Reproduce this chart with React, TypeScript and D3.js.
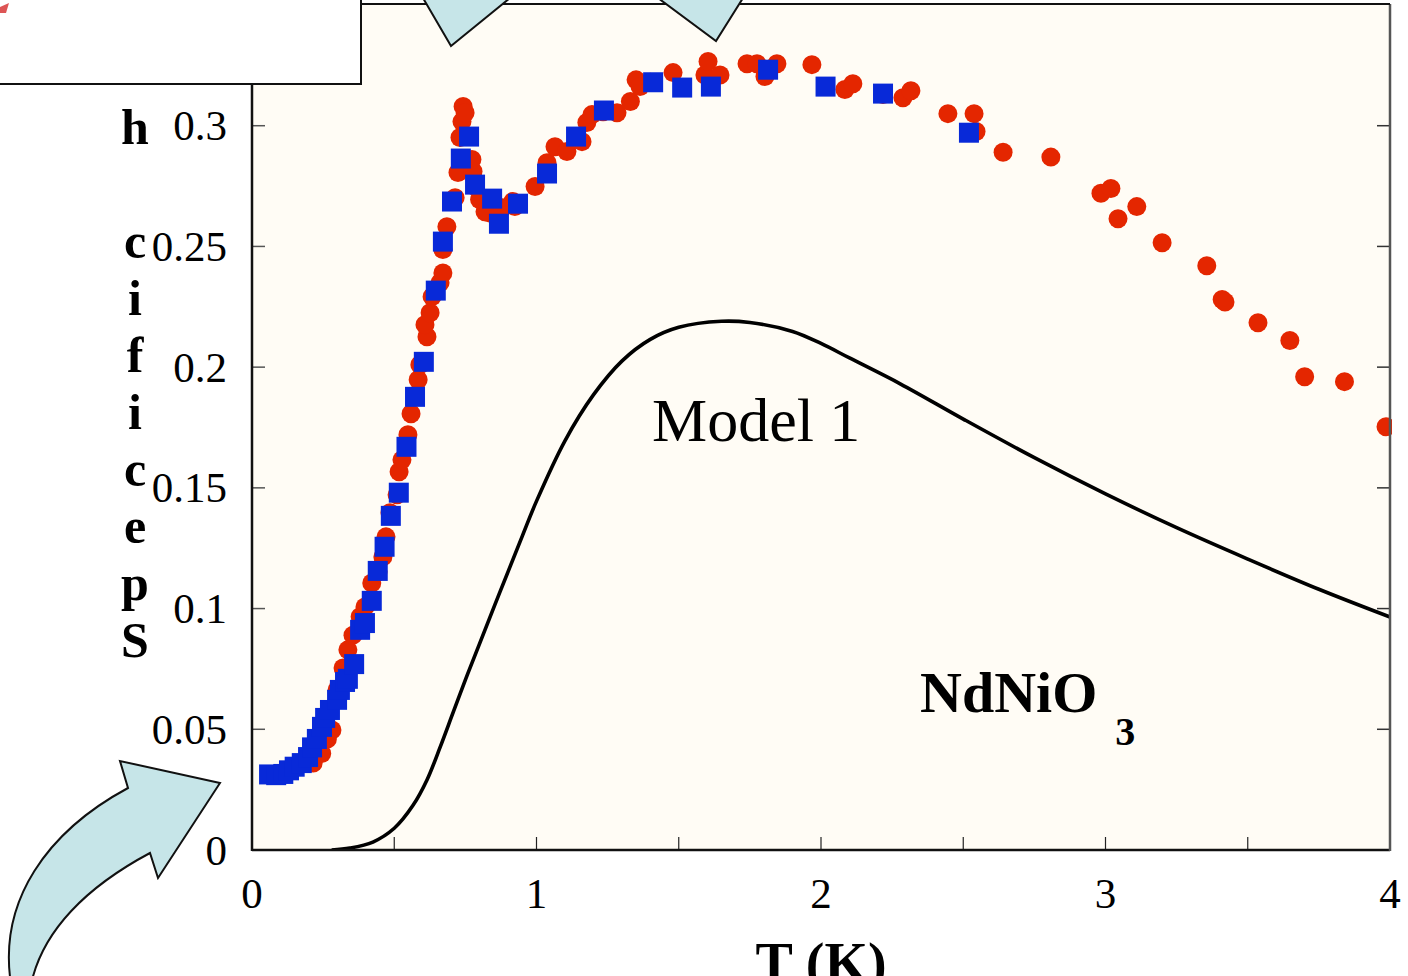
import React from 'react';
import * as d3 from 'd3';

// Series 1 (red circles): T (K) and specific heat
const redT = [0.215, 0.245, 0.265, 0.281, 0.299, 0.32, 0.337, 0.355, 0.38, 0.397, 0.421, 0.443, 0.46, 0.471, 0.485, 0.51, 0.517, 0.527, 0.548, 0.559, 0.584, 0.59, 0.615, 0.608, 0.626, 0.633, 0.661, 0.671, 0.671, 0.685, 0.714, 0.724, 0.731, 0.738, 0.742, 0.749, 0.773, 0.777, 0.784, 0.8, 0.819, 0.83, 0.86, 0.88, 0.917, 0.924, 0.995, 1.037, 1.065, 1.107, 1.16, 1.177, 1.195, 1.234, 1.283, 1.33, 1.35, 1.364, 1.4, 1.48, 1.592, 1.603, 1.645, 1.74, 1.775, 1.803, 1.845, 1.968, 2.084, 2.112, 2.218, 2.288, 2.316, 2.446, 2.538, 2.545, 2.64, 2.808, 2.984, 3.019, 3.044, 3.11, 3.199, 3.356, 3.41, 3.42, 3.536, 3.648, 3.7, 3.84, 3.986];
const redC = [0.036, 0.04, 0.046, 0.0497, 0.0663, 0.0754, 0.0829, 0.089, 0.0966, 0.1007, 0.1106, 0.1152, 0.1214, 0.1297, 0.1397, 0.1471, 0.1567, 0.1616, 0.172, 0.1807, 0.1948, 0.201, 0.2126, 0.2176, 0.2225, 0.2292, 0.235, 0.239, 0.2487, 0.2582, 0.2702, 0.2806, 0.2951, 0.3017, 0.308, 0.3054, 0.286, 0.281, 0.2748, 0.2694, 0.2644, 0.264, 0.262, 0.266, 0.2686, 0.2665, 0.2748, 0.2847, 0.2913, 0.2893, 0.2934, 0.3013, 0.3046, 0.3058, 0.3054, 0.31, 0.319, 0.3162, 0.318, 0.322, 0.321, 0.3266, 0.321, 0.3257, 0.3257, 0.3204, 0.3257, 0.3253, 0.315, 0.3174, 0.3129, 0.3116, 0.3145, 0.305, 0.305, 0.2976, 0.289, 0.287, 0.272, 0.274, 0.2615, 0.2665, 0.2515, 0.242, 0.228, 0.227, 0.2184, 0.211, 0.196, 0.194, 0.1753];

// Series 2 (blue squares)
const blueT = [0.06, 0.085, 0.11, 0.13, 0.15, 0.175, 0.197, 0.211, 0.228, 0.246, 0.257, 0.274, 0.299, 0.309, 0.327, 0.337, 0.359, 0.38, 0.397, 0.421, 0.442, 0.466, 0.488, 0.516, 0.543, 0.573, 0.604, 0.646, 0.671, 0.703, 0.734, 0.763, 0.784, 0.844, 0.868, 0.935, 1.037, 1.139, 1.237, 1.41, 1.512, 1.613, 1.814, 2.016, 2.218, 2.52];
const blueC = [0.0313, 0.031, 0.0315, 0.033, 0.0345, 0.036, 0.0385, 0.0425, 0.046, 0.051, 0.0547, 0.058, 0.0622, 0.0663, 0.0696, 0.0709, 0.077, 0.0912, 0.094, 0.1032, 0.1156, 0.1256, 0.1384, 0.148, 0.167, 0.1877, 0.2022, 0.2317, 0.252, 0.2686, 0.2864, 0.2955, 0.2756, 0.2698, 0.2594, 0.2677, 0.2802, 0.2955, 0.3063, 0.318, 0.3158, 0.3162, 0.3232, 0.3162, 0.3133, 0.2971];

// Model 1 curve
const modelT = [0.28, 0.344, 0.425, 0.5, 0.566, 0.615, 0.661, 0.707, 0.75, 0.8, 0.872, 0.95, 1.0, 1.1, 1.2, 1.3, 1.4, 1.5, 1.65, 1.75, 1.9, 2.0, 2.1, 2.28, 2.5, 2.75, 3.0, 3.25, 3.5, 3.75, 4.0];
const modelC = [0.0, 0.0008, 0.0033, 0.009, 0.0185, 0.029, 0.0425, 0.057, 0.0705, 0.0855, 0.107, 0.13, 0.1445, 0.1695, 0.1885, 0.2025, 0.2115, 0.2165, 0.219, 0.2185, 0.2148, 0.2098, 0.2038, 0.193, 0.1785, 0.1625, 0.1475, 0.1335, 0.1205, 0.108, 0.0965];

const xTickValues = [0, 1, 2, 3, 4];
const xTickMarks = [0.5, 1, 1.5, 2, 2.5, 3, 3.5];
const yTickValues = [0, 0.05, 0.1, 0.15, 0.2, 0.25, 0.3];
const yTickLabels = ['0', '0.05', '0.1', '0.15', '0.2', '0.25', '0.3'];
const xLabel = 'T (K)';
const yLabelVisible = 'Specific h';
const modelLabel = 'Model 1';
const compound = 'NdNiO';
const compoundSub = '3';

const RED = '#e42600';
const BLUE = '#0829d8';
const ARROW = '#c6e5e8';
const SERIF = '"Liberation Serif", "Times New Roman", serif';

export default function App() {
  const W = 1408, H = 976;
  const x = d3.scaleLinear().domain([0, 4]).range([252, 1390]);
  const y = d3.scaleLinear().domain([0, 0.35]).range([850, 5]);
  const [x0, x1] = x.range();
  const [yb, yt] = y.range();

  const modelPts: [number, number][] = modelT.map((t, i) => [t, modelC[i]]);
  const line = d3.line<[number, number]>()
    .x(d => x(d[0]))
    .y(d => y(d[1]))
    .curve(d3.curveCatmullRom.alpha(0.5));

  const letters = yLabelVisible.split('');
  const sq = 20;

  return (
    <div style={{ position: 'fixed', left: 0, top: 0, width: W, height: H, background: '#fff' }}>
      <svg width={W} height={H} style={{ display: 'block' }}>
        <defs>
          <clipPath id="plotClip">
            <rect x={x0} y={yt - 2} width={x1 - x0 + 2} height={yb - yt + 2} />
          </clipPath>
        </defs>
        <rect x={0} y={0} width={W} height={H} fill="#fff" />
        <rect x={x0} y={yt - 1} width={x1 - x0} height={yb - yt + 1} fill="#fffcf5" />

        {yTickValues.map(v => (
          <g key={'yt' + v}>
            <line x1={x0} x2={x0 + 13} y1={y(v)} y2={y(v)} stroke="#555" strokeWidth={1.5} />
            <line x1={x1 - 13} x2={x1} y1={y(v)} y2={y(v)} stroke="#333" strokeWidth={1.5} />
          </g>
        ))}
        {xTickMarks.map(v => (
          <line key={'xt' + v} x1={x(v)} x2={x(v)} y1={yb - 13} y2={yb} stroke="#222" strokeWidth={1.2} />
        ))}

        <path d={line(modelPts) || ''} fill="none" stroke="#000" strokeWidth={3.6} clipPath="url(#plotClip)" />

        <g clipPath="url(#plotClip)">
          {redT.map((t, i) => (
            <circle key={'r' + i} cx={x(t)} cy={y(redC[i])} r={9.5} fill={RED} />
          ))}
          {blueT.map((t, i) => (
            <rect key={'b' + i} x={x(t) - sq / 2} y={y(blueC[i]) - sq / 2} width={sq} height={sq} fill={BLUE} />
          ))}
        </g>

        <line x1={x0} x2={x0} y1={yt - 1} y2={yb + 1} stroke="#111" strokeWidth={2.5} />
        <line x1={x0} x2={x1} y1={yb} y2={yb} stroke="#111" strokeWidth={2.5} />
        <line x1={x1} x2={x1} y1={yt - 1} y2={yb + 1} stroke="#555" strokeWidth={2.5} />
        <line x1={x0} x2={x1} y1={yt - 1} y2={yt - 1} stroke="#111" strokeWidth={1.8} />

        {yTickValues.map((v, i) => (
          <text key={'yl' + v} x={227} y={y(v)} dy="0.34em" textAnchor="end"
            fontFamily={SERIF} fontSize={43} fill="#000">{yTickLabels[i]}</text>
        ))}
        {xTickValues.map(v => (
          <text key={'xl' + v} x={x(v)} y={908} textAnchor="middle"
            fontFamily={SERIF} fontSize={43} fill="#000">{String(v)}</text>
        ))}

        <text x={(x0 + x1) / 2} y={982} textAnchor="middle" fontFamily={SERIF} fontWeight="bold" fontSize={56} fill="#000">{xLabel}</text>
        <g>
          {letters.map((ch, i) => (
            <text key={'ylt' + i} x={135} y={657 - i * 57} textAnchor="middle"
              fontFamily={SERIF} fontWeight="bold" fontSize={50} fill="#000">{ch}</text>
          ))}
        </g>

        <text x={652} y={441} fontFamily={SERIF} fontSize={62} fill="#000">{modelLabel}</text>
        <text x={920} y={712} fontFamily={SERIF} fontWeight="bold" fontSize={58} fill="#000">
          {compound}
          <tspan dx={18} dy={33} fontSize={40}>{compoundSub}</tspan>
        </text>

        <rect x={-2} y={-2} width={363} height={86} fill="#fff" stroke="#111" strokeWidth={2} />
        <path d="M0,7 L9,3 L6,13 L0,13 Z" fill="#dd5555" />

        <path d="M423,-2 L451,46 L510,-2 Z" fill={ARROW} />
        <path d="M423,-2 L451,46 L510,-2" fill="none" stroke="#111" strokeWidth={2} />
        <path d="M658,-2 L716,41 L743,-2 Z" fill={ARROW} />
        <path d="M658,-2 L716,41 L743,-2" fill="none" stroke="#111" strokeWidth={2} />

        <path d="M220,783 L120,761 L128,788 C50,830 -5,900 12,990 L30,990 C40,930 90,885 150,853 L158,878 Z"
          fill={ARROW} stroke="#111" strokeWidth={2} strokeLinejoin="miter" />
      </svg>
    </div>
  );
}
